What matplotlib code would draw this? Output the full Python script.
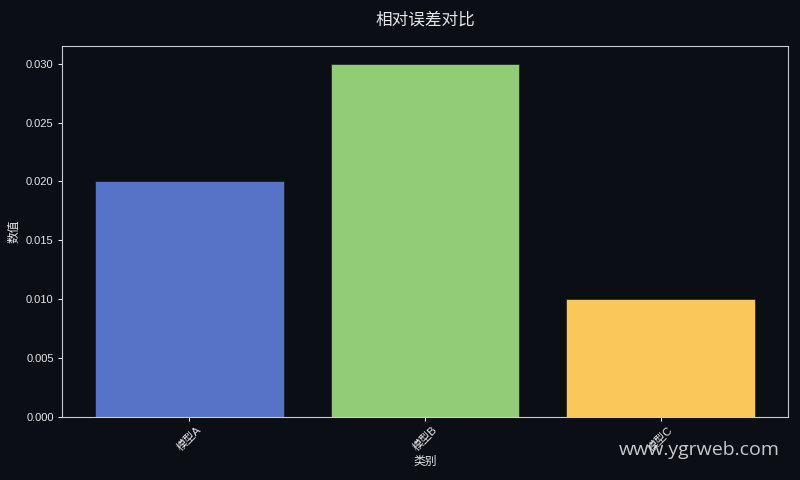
import matplotlib
matplotlib.use("Agg")
import matplotlib.pyplot as plt

categories = ["模型A", "模型B", "模型C"]
values = [0.02, 0.03, 0.01]
colors = ["#5673c8", "#93cc77", "#fac85a"]

plt.rcParams['font.family'] = ['Liberation Sans', 'Noto Sans CJK SC', 'DejaVu Sans']
bg = "#0b0e14"
fg = "#e6e6e6"

fig, ax = plt.subplots(figsize=(8, 4.8), dpi=100)
fig.patch.set_facecolor(bg)
ax.set_facecolor(bg)
fig.subplots_adjust(left=0.0775, right=0.985, top=0.904, bottom=0.132)

ax.bar(categories, values, color=colors, width=0.8, edgecolor=bg, linewidth=0.4)

ax.set_title("相对误差对比", color=fg, fontsize=12, pad=15.5)
ax.set_xlabel("类别", color=fg, fontsize=8.5, labelpad=2)
ax.set_ylabel("数值", color=fg, fontsize=8.5, labelpad=4)
ax.tick_params(colors=fg, labelsize=8, length=3, pad=3)
plt.setp(ax.get_xticklabels(), rotation=45)
for s in ax.spines.values():
    s.set_color("#cccccc")
ax.yaxis.set_major_formatter(matplotlib.ticker.FormatStrFormatter('%.3f'))

fig.text(0.975, 0.044, "www.ygrweb.com", color="#dddddd", fontsize=14,
         family=["Open Sans", "DejaVu Sans"], ha="right", va="bottom", alpha=0.9)

fig.savefig("out.png", dpi=100, facecolor=bg)
